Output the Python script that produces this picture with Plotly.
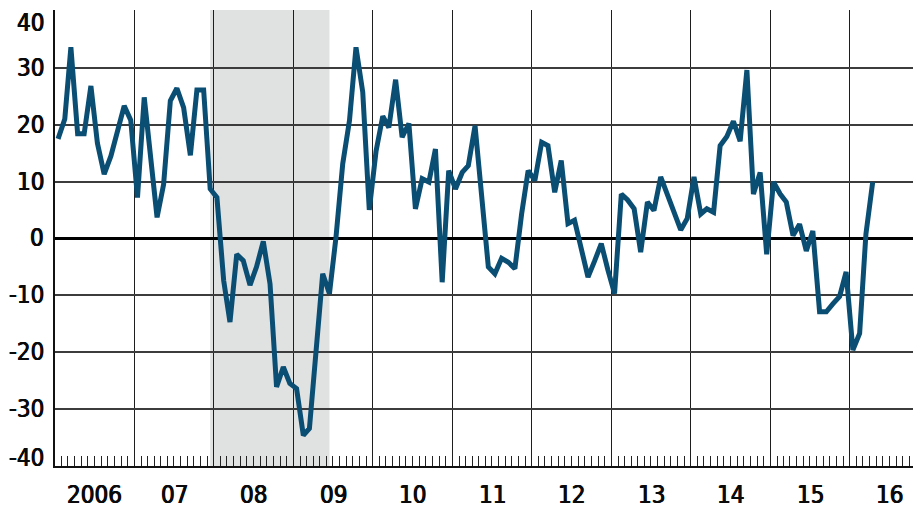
import plotly.graph_objects as go

years = list(range(2006, 2017))
values_2006 = [17.5, 21.0, 33.6, 18.4, 18.4, 26.8, 16.7, 11.3, 14.5, 19.0, 23.3, 20.8]
values_2007 = [7.2, 24.8, 14.0, 3.7, 9.5, 24.2, 26.4, 23.0, 14.6, 26.1, 26.1, 8.7]
values_2008 = [7.2, -7.4, -14.7, -2.8, -3.9, -8.2, -5.0, -0.5, -8.0, -26.1, -22.6, -25.5]
values_2009 = [-26.4, -34.6, -33.4, -19.1, -6.2, -9.7, 0.2, 13.1, 20.7, 33.6, 25.7, 5.0]
values_2010 = [15.3, 21.5, 19.5, 27.9, 17.8, 20.2, 5.2, 10.5, 9.9, 15.7, -7.7, 11.9]
values_2011 = [8.7, 11.6, 12.8, 19.8, 7.5, -5.0, -6.2, -3.5, -4.2, -5.3, 4.3, 11.9]
values_2012 = [10.2, 16.9, 16.3, 8.1, 13.7, 2.6, 3.2, -2.0, -6.8, -4.0, -0.9, -5.5]
values_2013 = [-9.7, 7.8, 6.8, 5.2, -2.4, 6.4, 4.9, 10.8, 7.6, 4.5, 1.5, 3.5]
values_2014 = [10.8, 4.3, 5.2, 4.6, 16.3, 17.9, 20.6, 17.1, 29.6, 7.8, 11.6, -2.8]
values_2015 = [9.9, 7.8, 6.4, 0.5, 2.5, -2.2, 1.3, -12.9, -12.9, -11.5, -10.2, -5.9]
values_2016 = [-19.6, -16.7, 0.8, 9.9]

yearly = [values_2006, values_2007, values_2008, values_2009, values_2010, values_2011,
          values_2012, values_2013, values_2014, values_2015, values_2016]

dates = []
values = []
for yr, vals in zip(years, yearly):
    for m, v in enumerate(vals, start=1):
        dates.append(f"{yr}-{m:02d}-15")
        values.append(v)

x_labels = ["2006", "07", "08", "09", "10", "11", "12", "13", "14", "15", "16"]
y_ticks = [40, 30, 20, 10, 0, -10, -20, -30, -40]
y_labels = ["40", "30", "20", "10", "0", "-10", "-20", "-30", "-40"]

recession_start = "2007-12-15"
recession_end = "2009-06-15"

LINE = "#0a4e74"
FONT = dict(family="DejaVu Sans Condensed, Liberation Sans Narrow, sans-serif",
            size=24, color="#0a0a0a",
            shadow="0.5px 0px 0px #0a0a0a, -0.4px 0px 0px #0a0a0a")

fig = go.Figure()
fig.add_trace(go.Scatter(x=dates, y=values, mode="lines",
                         line=dict(color=LINE, width=5), hoverinfo="skip"))

fig.add_shape(type="rect", xref="x", yref="paper", x0=recession_start, x1=recession_end,
              y0=0, y1=1, fillcolor="#e0e1e1", line=dict(width=0), layer="below")

annotations = []
for yr, lab in zip(years, x_labels):
    annotations.append(dict(x=f"{yr}-07-02", y=0, xref="x", yref="paper", text=lab,
                            showarrow=False, xanchor="center", yanchor="middle",
                            yshift=-29, font=FONT))
for val, lab in zip(y_ticks, y_labels):
    shift = -12 if val == 40 else (8 if val == -40 else 0)
    annotations.append(dict(x=0, y=val, xref="paper", yref="y", text=lab,
                            showarrow=False, xanchor="right", yanchor="middle",
                            xshift=-9, yshift=shift, font=FONT))

fig.update_layout(
    width=913, height=500,
    margin=dict(l=47, r=0, t=2, b=42),
    paper_bgcolor="white", plot_bgcolor="white",
    showlegend=False,
    annotations=annotations,
    xaxis=dict(
        type="date",
        range=["2006-01-01", "2016-11-23"],
        tickmode="linear", tick0="2006-01-01", dtick="M12",
        showgrid=True, gridcolor="#1e1e1e", gridwidth=1.4,
        showticklabels=False, ticks="",
        showline=True, linecolor="#111111", linewidth=2,
        zeroline=False,
        minor=dict(dtick="M1", tick0="2006-01-01", ticks="inside", ticklen=10,
                   tickcolor="#222222", tickwidth=1, showgrid=False),
    ),
    yaxis=dict(
        range=[-40, 40.15],
        tickmode="array", tickvals=y_ticks,
        showticklabels=False, ticks="",
        showgrid=True, gridcolor="#3c3c3c", gridwidth=1.7,
        zeroline=True, zerolinecolor="#000000", zerolinewidth=3,
        showline=True, linecolor="#111111", linewidth=2,
    ),
)

fig.write_html("out.html")
